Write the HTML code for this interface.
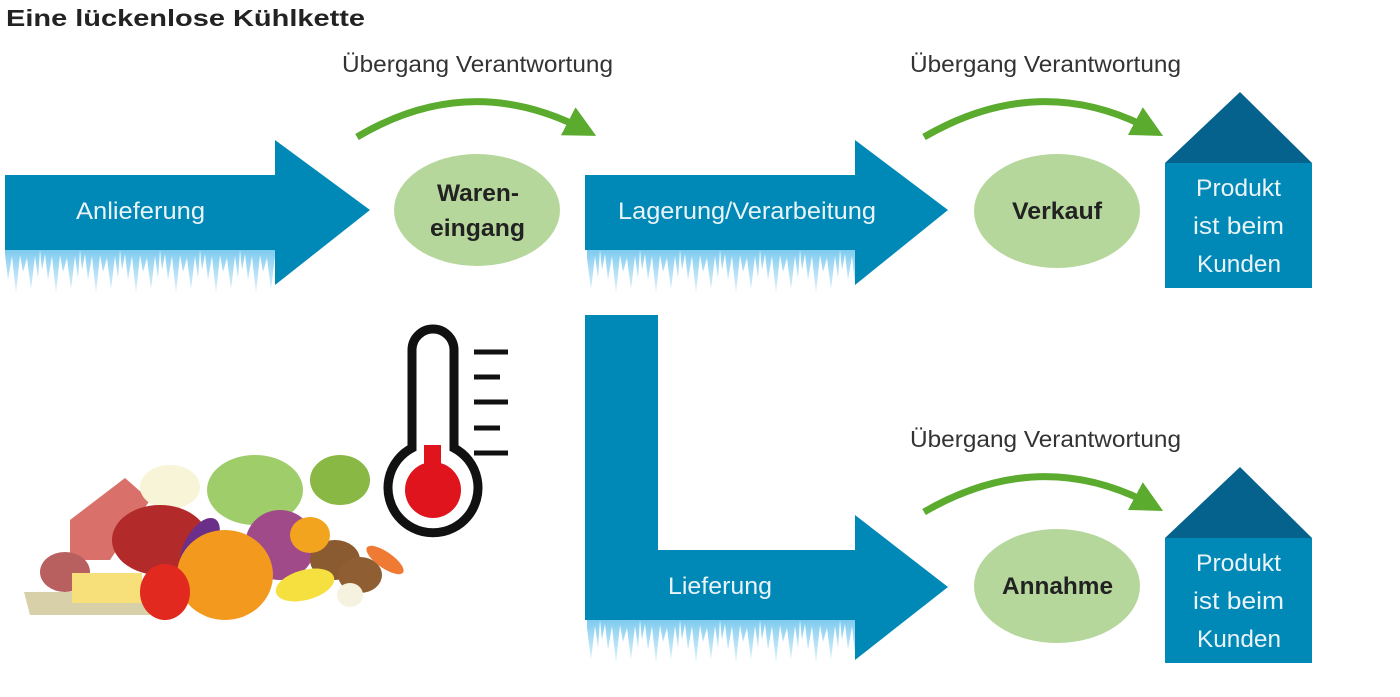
<!DOCTYPE html>
<html><head><meta charset="utf-8"><style>
html,body{margin:0;padding:0;background:#fff;width:1400px;height:697px;overflow:hidden}
svg{display:block}
text{font-family:"Liberation Sans Narrow","Liberation Sans",sans-serif}
</style></head><body>
<svg width="1400" height="697" viewBox="0 0 1400 697" xmlns="http://www.w3.org/2000/svg">
<defs>
<linearGradient id="ice" x1="0" y1="0" x2="0" y2="1">
<stop offset="0" stop-color="#7fcbef"/><stop offset="1" stop-color="#e6f5fc"/></linearGradient>
<pattern id="ic" x="0" y="250" width="40" height="50" patternUnits="userSpaceOnUse">
<polygon points="0,0 40,0 38,28 35,6 31,40 27,8 23,22 20,5 16,44 12,6 8,30 5,4 2,20" fill="url(#ice)"/>
</pattern>
<pattern id="ic2" x="0" y="620" width="40" height="50" patternUnits="userSpaceOnUse">
<polygon points="0,0 40,0 38,28 35,6 31,40 27,8 23,22 20,5 16,44 12,6 8,30 5,4 2,20" fill="url(#ice)"/>
</pattern>
<marker id="ga" viewBox="0 0 10 10" refX="6" refY="5" markerWidth="4.5" markerHeight="4.5" orient="auto"><polygon points="0,0 10,5 0,10" fill="#5aab2e"/></marker>
</defs>
<text x="6" y="26" font-size="23" font-weight="bold" fill="#222" textLength="359" lengthAdjust="spacingAndGlyphs">Eine lückenlose Kühlkette</text>

<!-- arrow 1 -->
<rect x="5" y="250" width="270" height="50" fill="url(#ic)"/>
<polygon points="5,175 275,175 275,140 370,210 275,285 275,250 5,250" fill="#0088b6"/>
<text x="76" y="219" font-size="24" fill="#eaf4f8" textLength="129" lengthAdjust="spacingAndGlyphs">Anlieferung</text>
<ellipse cx="477" cy="210" rx="83" ry="56" fill="#b6d79b"/>
<text x="437" y="201" font-size="24" font-weight="bold" fill="#222" textLength="82" lengthAdjust="spacingAndGlyphs">Waren-</text>
<text x="430" y="236" font-size="24" font-weight="bold" fill="#222" textLength="95" lengthAdjust="spacingAndGlyphs">eingang</text>

<!-- arrow 2 -->
<rect x="587" y="250" width="268" height="50" fill="url(#ic)"/>
<polygon points="585,175 855,175 855,140 948,210 855,285 855,250 585,250" fill="#0088b6"/>
<text x="618" y="219" font-size="24" fill="#eaf4f8" textLength="258" lengthAdjust="spacingAndGlyphs">Lagerung/Verarbeitung</text>
<ellipse cx="1057" cy="211" rx="83" ry="57" fill="#b6d79b"/>
<text x="1012" y="219" font-size="24" font-weight="bold" fill="#222" textLength="90" lengthAdjust="spacingAndGlyphs">Verkauf</text>

<!-- house 1 -->
<polygon points="1165,163 1240,92 1312,163" fill="#05628c"/>
<rect x="1165" y="163" width="147" height="125" fill="#0088b6"/>
<text x="1196" y="196" font-size="24" fill="#eaf4f8" textLength="85" lengthAdjust="spacingAndGlyphs">Produkt</text>
<text x="1193" y="234" font-size="24" fill="#eaf4f8" textLength="91" lengthAdjust="spacingAndGlyphs">ist beim</text>
<text x="1197" y="272" font-size="24" fill="#eaf4f8" textLength="84" lengthAdjust="spacingAndGlyphs">Kunden</text>

<!-- green arcs -->
<text x="342" y="72" font-size="23" fill="#333" textLength="271" lengthAdjust="spacingAndGlyphs">Übergang Verantwortung</text>
<path d="M357,137 Q470,70 585,130" fill="none" stroke="#5aab2e" stroke-width="7" marker-end="url(#ga)"/>
<text x="910" y="72" font-size="23" fill="#333" textLength="271" lengthAdjust="spacingAndGlyphs">Übergang Verantwortung</text>
<path d="M924,137 Q1040,70 1152,130" fill="none" stroke="#5aab2e" stroke-width="7" marker-end="url(#ga)"/>
<text x="910" y="447" font-size="23" fill="#333" textLength="271" lengthAdjust="spacingAndGlyphs">Übergang Verantwortung</text>
<path d="M924,512 Q1040,445 1152,505" fill="none" stroke="#5aab2e" stroke-width="7" marker-end="url(#ga)"/>

<!-- L arrow -->
<rect x="587" y="620" width="268" height="50" fill="url(#ic2)"/>
<polygon points="585,315 658,315 658,550 855,550 855,515 948,587 855,660 855,620 585,620" fill="#0088b6"/>
<text x="668" y="594" font-size="24" fill="#eaf4f8" textLength="104" lengthAdjust="spacingAndGlyphs">Lieferung</text>
<ellipse cx="1057" cy="586" rx="83" ry="57" fill="#b6d79b"/>
<text x="1002" y="594" font-size="24" font-weight="bold" fill="#222" textLength="111" lengthAdjust="spacingAndGlyphs">Annahme</text>
<polygon points="1165,538 1240,467 1312,538" fill="#05628c"/>
<rect x="1165" y="538" width="147" height="125" fill="#0088b6"/>
<text x="1196" y="571" font-size="24" fill="#eaf4f8" textLength="85" lengthAdjust="spacingAndGlyphs">Produkt</text>
<text x="1193" y="609" font-size="24" fill="#eaf4f8" textLength="91" lengthAdjust="spacingAndGlyphs">ist beim</text>
<text x="1197" y="647" font-size="24" fill="#eaf4f8" textLength="84" lengthAdjust="spacingAndGlyphs">Kunden</text>

<!-- thermometer -->
<path d="M412,448 L412,350 A21,21 0 0 1 454,350 L454,448 A45,45 0 1 1 412,448 Z" fill="#fff" stroke="#111" stroke-width="9"/>
<rect x="424" y="445" width="17" height="45" fill="#e0141c"/>
<circle cx="433" cy="490" r="28" fill="#e0141c"/>
<g stroke="#111" stroke-width="5">
<line x1="474" y1="352" x2="508" y2="352"/><line x1="474" y1="377" x2="500" y2="377"/>
<line x1="474" y1="402" x2="508" y2="402"/><line x1="474" y1="428" x2="500" y2="428"/>
<line x1="474" y1="453" x2="508" y2="453"/></g>

<!-- food -->
<polygon points="24,592 140,592 150,615 30,615" fill="#d8d0a8"/>
<polygon points="70,520 125,478 150,500 110,560 70,560" fill="#d9706a"/>
<ellipse cx="170" cy="487" rx="30" ry="22" fill="#f8f4d8"/>
<ellipse cx="255" cy="490" rx="48" ry="35" fill="#9fcd6a"/>
<ellipse cx="340" cy="480" rx="30" ry="25" fill="#89b844"/>
<ellipse cx="160" cy="540" rx="48" ry="35" fill="#b22a2a"/>
<ellipse cx="65" cy="572" rx="25" ry="20" fill="#b86060"/>
<rect x="72" y="573" width="70" height="30" fill="#f7df7a"/>
<ellipse cx="200" cy="545" rx="15" ry="30" fill="#6b2f8a" transform="rotate(30 200 545)"/>
<ellipse cx="280" cy="545" rx="35" ry="35" fill="#a04a8a"/>
<ellipse cx="225" cy="575" rx="48" ry="45" fill="#f39a1e"/>
<ellipse cx="165" cy="592" rx="25" ry="28" fill="#e2291f"/>
<ellipse cx="335" cy="560" rx="25" ry="20" fill="#8a5a30"/>
<ellipse cx="360" cy="575" rx="22" ry="18" fill="#8f5e32"/>
<ellipse cx="305" cy="585" rx="30" ry="15" fill="#f5e040" transform="rotate(-15 305 585)"/>
<ellipse cx="350" cy="595" rx="13" ry="12" fill="#f6f2e0"/>
<ellipse cx="385" cy="560" rx="22" ry="8" fill="#ee7a34" transform="rotate(35 385 560)"/>
<ellipse cx="310" cy="535" rx="20" ry="18" fill="#f3a41e"/>
</svg>
</body></html>
